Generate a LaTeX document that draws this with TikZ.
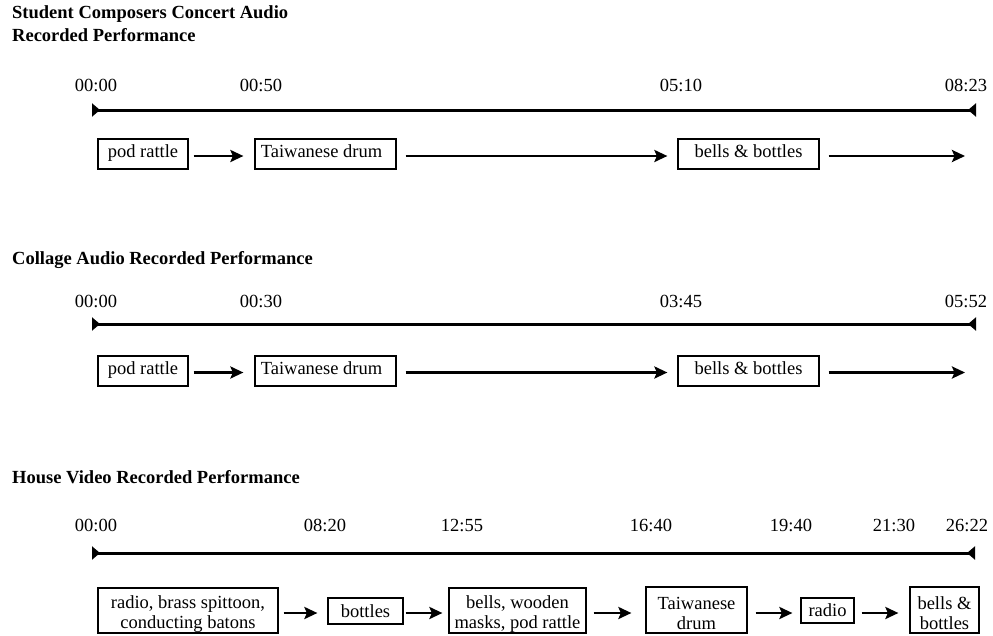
\documentclass[tikz,border=0pt]{standalone}
\usepackage{fontspec}
\setmainfont{Liberation Serif}
\usetikzlibrary{arrows.meta}
\newcommand{\topstrut}{\rule{0pt}{19pt}}
\begin{document}
\begin{tikzpicture}[x=1pt,y=-1pt,
  every node/.style={font=\fontsize{18.5}{20}\selectfont, inner sep=0pt},
  ttl/.style={anchor=base west, font=\fontsize{18.5}{20}\selectfont\bfseries},
  tlabel/.style={anchor=base},
  tline/.style={line width=3pt, {Triangle[reversed,length=8pt,width=13pt]}-{Triangle[reversed,length=8pt,width=13pt]}},
  evt/.style={draw, line width=1.2pt, anchor=base, text height=11.5pt, text depth=5.5pt, inner ysep=6.5pt, inner xsep=0pt},
  evttwo/.style={draw, line width=1.2pt, align=center, inner sep=0pt},
  flow/.style={line width=2.8pt, -{Stealth[length=13pt,width=12pt,inset=2.5pt]}}
]
\useasboundingbox (0,0) rectangle (993,635);

% ---------- Section 1 ----------
\node[ttl] (t1a) at (12,18) {Student Composers Concert Audio};
\node[ttl] (t1b) at (12,41) {Recorded Performance};
\node[tlabel] (l1a) at (96,91) {00:00};
\node[tlabel] (l1b) at (261,91) {00:50};
\node[tlabel] (l1c) at (681,91) {05:10};
\node[tlabel] (l1d) at (966,91) {08:23};
\coordinate (s1) at (92,110);
\coordinate (e1) at (976,110);
\draw[tline] (s1) -- (e1);
\node[evt, minimum width=90pt] (a1) at (143,157) {pod rattle};
\node[evt, minimum width=141pt] (a2) at (325.5,157) {Taiwanese drum\kern8pt};
\node[evt, minimum width=141pt] (a3) at (748.5,157) {bells \& bottles};
\coordinate (f1) at (965,156);
\draw[flow, shorten <=5pt, shorten >=11pt] ([yshift=-2pt]a1.east) -- ([yshift=-2pt]a2.west);
\draw[flow, shorten <=9pt, shorten >=10pt] ([yshift=-2pt]a2.east) -- ([yshift=-2pt]a3.west);
\draw[flow, shorten <=9pt] ([yshift=-2pt]a3.east) -- (f1);

% ---------- Section 2 ----------
\node[ttl] (t2) at (12,264) {Collage Audio Recorded Performance};
\node[tlabel] (l2a) at (96,307) {00:00};
\node[tlabel] (l2b) at (261,307) {00:30};
\node[tlabel] (l2c) at (681,307) {03:45};
\node[tlabel] (l2d) at (966,307) {05:52};
\coordinate (s2) at (92,324);
\coordinate (e2) at (976,324);
\draw[tline] (s2) -- (e2);
\node[evt, minimum width=90pt] (b1) at (143,374) {pod rattle};
\node[evt, minimum width=141pt] (b2) at (325.5,374) {Taiwanese drum\kern8pt};
\node[evt, minimum width=141pt] (b3) at (748.5,374) {bells \& bottles};
\coordinate (f2) at (965,372.5);
\draw[flow, shorten <=5pt, shorten >=11pt] ([yshift=-1.5pt]b1.east) -- ([yshift=-1.5pt]b2.west);
\draw[flow, shorten <=9pt, shorten >=10pt] ([yshift=-1.5pt]b2.east) -- ([yshift=-1.5pt]b3.west);
\draw[flow, shorten <=9pt] ([yshift=-1.5pt]b3.east) -- (f2);

% ---------- Section 3 ----------
\node[ttl] (t3) at (12,483) {House Video Recorded Performance};
\node[tlabel] (l3a) at (96,531) {00:00};
\node[tlabel] (l3b) at (325,531) {08:20};
\node[tlabel] (l3c) at (462,531) {12:55};
\node[tlabel] (l3d) at (651,531) {16:40};
\node[tlabel] (l3e) at (791,531) {19:40};
\node[tlabel] (l3f) at (894,531) {21:30};
\node[tlabel] (l3g) at (967,531) {26:22};
\coordinate (s3) at (92,553);
\coordinate (e3) at (975,553);
\draw[tline] (s3) -- (e3);
\node[evttwo, minimum width=180pt, minimum height=45pt] (c1) at (188,610.5) {\topstrut radio, brass spittoon,\\conducting batons};
\node[evttwo, minimum width=75pt, minimum height=26pt] (c2) at (365.5,611) {bottles};
\node[evttwo, minimum width=137pt, minimum height=45pt] (c3) at (517.5,610.5) {\topstrut bells, wooden\\masks, pod rattle};
\node[evttwo, minimum width=101pt, minimum height=46pt] (c4) at (696.5,610) {\topstrut Taiwanese\\drum};
\node[evttwo, minimum width=53pt, minimum height=25pt] (c5) at (827.5,610.5) {radio};
\node[evttwo, minimum width=69pt, minimum height=46pt] (c6) at (944.5,610) {\topstrut bells \&\\bottles};
\draw[flow, shorten <=5pt, shorten >=10pt] ([yshift=-2.5pt]c1.east) -- ([yshift=-2pt]c2.west);
\draw[flow, shorten <=2pt, shorten >=6pt] ([yshift=-2pt]c2.east) -- ([yshift=-2.5pt]c3.west);
\draw[flow, shorten <=7pt, shorten >=14pt] ([yshift=-2.5pt]c3.east) -- ([yshift=-3pt]c4.west);
\draw[flow, shorten <=8pt, shorten >=8pt] ([yshift=-3pt]c4.east) -- ([yshift=-2.5pt]c5.west);
\draw[flow, shorten <=7pt, shorten >=11pt] ([yshift=-2.5pt]c5.east) -- ([yshift=-3pt]c6.west);
\end{tikzpicture}
\end{document}
